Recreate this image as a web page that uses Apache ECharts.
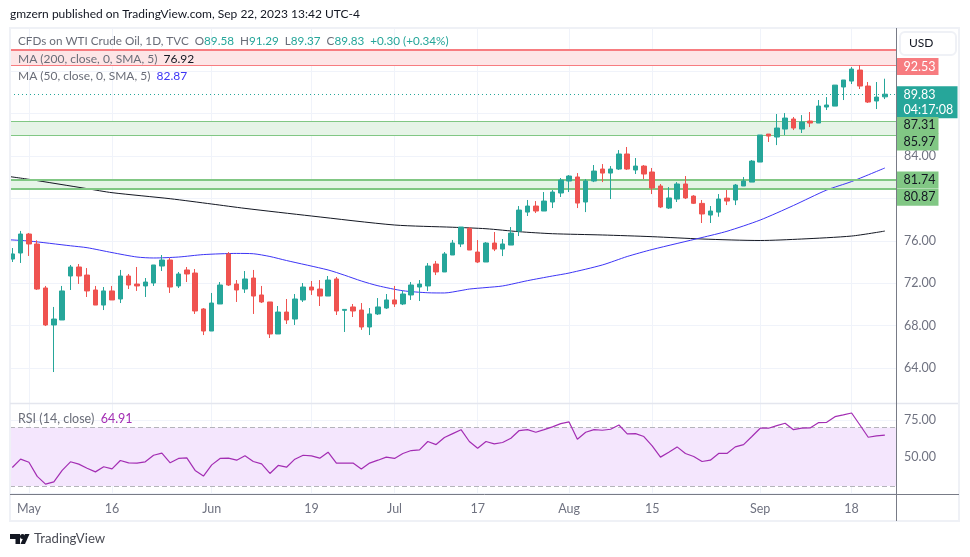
<!DOCTYPE html>
<html><head><meta charset="utf-8">
<style>html,body{margin:0;padding:0;background:#fff}#c{width:970px;height:557px}</style>
<script src="https://cdn.jsdelivr.net/npm/echarts@6/dist/echarts.min.js"></script></head>
<body><div id="c"></div>
<script>
const dates=['04-27','04-28','05-02','05-03','05-04','05-05','05-08','05-09','05-10','05-11','05-12','05-15','05-16','05-17','05-18','05-19','05-22','05-23','05-24','05-25','05-26','05-29','05-30','05-31','06-01','06-02','06-05','06-06','06-07','06-08','06-09','06-12','06-13','06-14','06-15','06-16','06-19','06-20','06-21','06-22','06-23','06-26','06-27','06-28','06-29','06-30','07-03','07-04','07-05','07-06','07-07','07-10','07-11','07-12','07-13','07-14','07-17','07-18','07-19','07-20','07-21','07-24','07-25','07-26','07-27','07-28','07-31','08-01','08-02','08-03','08-04','08-07','08-08','08-09','08-10','08-11','08-14','08-15','08-16','08-17','08-18','08-21','08-22','08-23','08-24','08-25','08-28','08-29','08-30','08-31','09-01','09-04','09-05','09-06','09-07','09-08','09-11','09-12','09-13','09-14','09-15','09-18','09-19','09-20','09-21','09-22'];
const opens=[74.28,74.85,76.64,75.70,71.55,68.06,68.53,72.68,73.53,72.77,71.36,69.94,71.27,70.51,72.68,71.92,71.74,72.02,73.62,74.19,71.74,73.25,72.96,69.57,67.49,70.04,74.76,71.92,71.45,72.49,70.89,70.23,67.21,69.28,68.62,70.42,71.64,71.45,70.79,72.40,69.44,69.76,69.47,67.87,69.10,69.66,70.42,70.04,70.89,71.64,71.74,73.81,73.06,74.66,75.70,77.17,74.94,74.00,75.79,75.22,75.60,76.92,78.71,79.28,78.81,79.66,80.51,81.64,82.02,79.66,81.64,82.77,82.39,82.77,84.19,82.68,83.05,82.49,81.17,79.09,79.94,81.36,80.22,79.53,78.43,78.71,80.03,79.85,81.17,81.54,83.43,86.07,85.79,86.54,87.49,86.54,87.30,87.11,88.62,88.71,90.51,91.07,92.11,90.60,89.19,89.58];
const closes=[74.76,76.64,75.70,71.45,68.06,68.62,71.27,73.53,72.68,71.27,69.94,71.27,70.42,72.68,71.83,71.74,72.11,73.72,74.19,71.64,72.87,72.87,69.38,67.49,70.13,71.83,71.83,71.36,72.40,70.79,70.23,67.21,69.28,68.53,70.51,71.64,71.36,70.79,72.30,69.38,69.53,69.38,67.87,69.10,69.76,70.42,70.04,70.98,71.83,71.92,73.62,73.06,74.76,75.79,77.30,75.13,74.00,75.79,75.22,75.70,76.73,78.90,79.28,78.81,79.75,80.60,81.73,82.11,79.56,81.64,82.58,82.39,82.77,84.19,82.77,83.05,82.30,80.98,79.19,80.04,81.36,80.04,79.54,78.53,78.81,79.94,79.75,81.26,81.64,83.52,85.98,85.88,86.64,87.58,86.64,87.20,87.11,88.71,88.81,90.69,91.17,92.20,90.60,89.09,89.56,89.83];
const lows=[74.00,73.91,74.57,71.36,67.96,63.62,68.53,71.36,71.93,70.70,69.94,69.47,70.42,70.13,71.45,71.27,70.70,71.74,73.15,71.08,71.55,72.11,69.10,67.11,67.49,70.04,71.74,70.23,71.08,69.10,70.13,66.83,67.21,68.15,68.06,70.23,70.89,69.85,70.79,69.00,67.40,68.81,67.60,67.11,69.00,69.57,69.76,69.94,70.42,70.32,71.27,72.77,73.06,74.66,75.41,75.13,73.90,74.00,75.03,74.56,75.60,76.45,78.34,78.62,78.81,79.09,80.13,80.60,79.09,78.71,81.54,81.54,79.94,82.68,82.68,82.30,81.83,80.41,79.09,79.00,79.66,79.94,79.47,77.68,77.68,78.27,79.37,79.37,81.17,81.54,83.43,85.32,85.03,85.98,86.45,86.17,86.73,87.11,88.34,88.71,89.28,90.79,90.32,89.00,88.43,89.37];
const highs=[75.32,76.93,76.74,76.05,71.74,69.76,71.74,73.72,73.81,73.43,71.74,71.64,71.74,73.25,72.87,73.53,72.49,73.72,74.66,74.38,73.06,73.53,73.34,69.66,71.08,72.11,74.94,72.30,73.15,73.25,71.74,70.23,69.85,70.51,70.98,72.02,72.21,72.30,72.68,72.59,69.53,70.04,70.13,69.66,70.60,70.98,71.74,71.27,72.11,72.30,73.90,74.10,74.94,76.08,77.30,77.30,76.07,75.88,76.83,76.17,77.30,79.28,79.85,79.75,80.60,80.79,81.92,82.20,82.39,81.83,83.15,83.24,83.05,84.56,84.85,83.81,83.15,82.87,81.36,81.07,81.54,82.11,80.31,79.85,79.28,80.41,80.79,81.36,82.02,83.62,85.98,86.07,87.96,88.05,87.68,87.86,88.15,89.28,89.56,90.69,91.17,92.39,92.58,90.98,90.98,91.29];
const rsi=[42.7,48.4,46.3,36.6,31.3,32.9,40.7,46.6,45.0,42.2,39.7,43.2,41.8,47.5,45.9,45.7,46.6,51.1,52.5,45.9,48.9,49.3,40.7,36.8,44.5,48.9,49.1,47.7,50.7,46.8,45.2,38.6,44.1,42.9,48.4,51.1,50.7,49.1,53.2,45.7,45.7,45.7,41.6,45.7,47.7,49.8,48.9,52.3,54.3,54.8,60.5,58.4,63.2,65.9,68.6,60.5,55.9,60.5,58.9,59.8,62.7,68.0,68.6,66.8,68.6,70.5,72.7,73.9,62.0,66.8,68.6,68.2,68.9,71.8,65.7,65.9,63.9,57.5,49.8,53.2,56.8,52.3,50.2,46.8,47.7,52.3,52.3,56.8,58.4,63.9,69.6,69.6,71.4,73.0,68.6,69.6,69.8,73.4,73.6,77.5,78.7,80.0,71.8,63.4,64.3,64.91];
const ma50Bars=[-1,2,7,9,12,15,17,20,23,27,29,31,33,38,40,42,44,47,50,52,54,55,57,59,62,65,67,71,74,77,83,86,90,94,98,101,105];
const ma50Values=[76.12,75.98,75.53,75.35,74.89,74.47,74.38,74.47,74.70,74.81,74.78,74.52,74.14,73.25,72.75,72.21,71.76,71.29,71.10,71.08,71.31,71.45,71.59,71.74,72.24,72.68,72.96,73.72,74.52,75.18,76.31,76.90,77.96,79.33,80.79,81.59,82.87];
const ma200Bars=[-1,2,9,12,19,24,28,36,46,53,57,61,65,71,77,83,90,95,101,105];
const ma200Values=[82.13,81.80,80.92,80.54,79.97,79.47,79.06,78.34,77.49,77.28,77.14,76.86,76.67,76.55,76.39,76.17,76.03,76.17,76.45,76.92];
const tickDates=['05-02','05-16','06-01','06-19','07-03','07-17','08-01','08-15','09-01','09-18'];
const tickLabels=['May','16','Jun','19','Jul','17','Aug','15','Sep','18'];
const priceTicks=[64,68,72,76,80,84,88,92];
const rsiTicks=[25,50,75];
const rsiLabels=[50,75];
const resistance=[92.53,94.0];
const upperSupport=[85.97,87.31];
const lowerSupport=[80.87,81.74];
const rsiBand=[30,70];
const lastPrice=89.83;
const countdown='04:17:08';

const categories=['',...dates,' '];
const tickMap=Object.fromEntries(tickDates.map((d,i)=>[d,tickLabels[i]]));
const isTick=(i,v)=>v in tickMap;
const GRID='#f0f3fa', AX='#6f7280', UP='#26a69a', DN='#ef5350';
const FONT='Lato,sans-serif', FS=12.5;
const hline=(v,color,width,type)=>({yAxis:v,lineStyle:{color,width,type:type||'solid'},symbol:'none'});
const band=(b,color)=>[{yAxis:b[1],itemStyle:{color}},{yAxis:b[0]}];
const priceTags=[
 {v:resistance[0],text:'92.53',bg:'#f77c80',fg:'#fff',dy:1,w:33},
 {v:lastPrice,text:lastPrice.toFixed(2)+'\n'+countdown,bg:UP,fg:'#fff',dy:8,w:52},
 {v:upperSupport[1],text:'87.31',bg:'#81c784',fg:'#131722',dy:4.5,w:33},
 {v:upperSupport[0],text:'85.97',bg:'#81c784',fg:'#131722',dy:7,w:33},
 {v:lowerSupport[1],text:'81.74',bg:'#81c784',fg:'#131722',dy:0,w:33},
 {v:lowerSupport[0],text:'80.87',bg:'#81c784',fg:'#131722',dy:8,w:33}
];
const T=(x,y,text,rich,extra)=>({type:'text',x,y,z:50,silent:true,style:Object.assign({text,fontFamily:FONT,fontSize:FS,fill:'#6a6d78',verticalAlign:'middle',rich:rich||{}},extra||{})});
const col=(c,s)=>({fontFamily:FONT,fontSize:s||FS,fill:c,color:c});
const option={
 animation:false,backgroundColor:'#fff',
 grid:[
  {left:10,width:886,top:28,height:375},
  {left:3.99,width:889.17,top:28,height:375},
  {left:10,width:886,top:403,height:91},
  {left:3.99,width:889.17,top:403,height:91}
 ],
 xAxis:[
  {gridIndex:0,type:'value',min:0,max:1,show:false},
  {gridIndex:1,type:'category',boundaryGap:false,data:categories,axisLine:{show:false},axisTick:{show:false},axisLabel:{show:false},splitLine:{show:true,interval:isTick,lineStyle:{color:GRID,width:1}}},
  {gridIndex:2,type:'value',min:0,max:1,show:false},
  {gridIndex:3,type:'category',boundaryGap:false,data:categories,axisLine:{show:false},axisTick:{show:false},
   axisLabel:{show:true,interval:isTick,formatter:v=>tickMap[v]||'',color:AX,fontFamily:FONT,fontSize:FS,margin:8,hideOverlap:false},
   splitLine:{show:true,interval:isTick,lineStyle:{color:GRID,width:1}}}
 ],
 yAxis:[
  {gridIndex:0,type:'value',position:'right',min:60.7,max:96.075,scale:true,axisLine:{show:false},axisTick:{show:false,customValues:priceTicks},
   axisLabel:{customValues:priceTicks,formatter:v=>v.toFixed(2),color:AX,fontFamily:FONT,fontSize:FS,margin:8},splitLine:{show:true,lineStyle:{color:GRID,width:1}}},
  {gridIndex:1,type:'value',min:60.7,max:96.075,scale:true,show:false,splitLine:{show:false}},
  {gridIndex:2,type:'value',position:'right',min:24.55,max:86.86,scale:true,axisLine:{show:false},axisTick:{show:false,customValues:rsiTicks},
   axisLabel:{customValues:rsiLabels,formatter:v=>v.toFixed(2),color:AX,fontFamily:FONT,fontSize:FS,margin:8},splitLine:{show:true,lineStyle:{color:GRID,width:1}}},
  {gridIndex:3,type:'value',min:24.55,max:86.86,scale:true,show:false,splitLine:{show:false}}
 ],
 series:[
  {type:'line',name:'zones',xAxisIndex:0,yAxisIndex:0,data:[[0,lastPrice]],showSymbol:false,lineStyle:{opacity:0},silent:true,z:1,
   markArea:{silent:true,z:1,data:[band(resistance,'#fde5e6'),band(upperSupport,'#e6f4e7'),band(lowerSupport,'#e6f4e7')]},
   markLine:{silent:true,z:3,symbol:'none',label:{show:false},animation:false,data:[
    hline(resistance[1],'#f77c80',2),hline(resistance[0],'#f77c80',1.2),
    hline(upperSupport[1],'#81c784',1),hline(upperSupport[0],'#81c784',1),
    hline(lowerSupport[1],'#81c784',2),hline(lowerSupport[0],'#81c784',2),
    hline(lastPrice,UP,1,[1,3])]}},
  {type:'line',name:'MA 200',xAxisIndex:1,yAxisIndex:1,z:2,showSymbol:false,smooth:0.25,silent:true,
   data:ma200Bars.map((b,i)=>[b+1,ma200Values[i]]),lineStyle:{color:'#131722',width:1}},
  {type:'line',name:'MA 50',xAxisIndex:1,yAxisIndex:1,z:2,showSymbol:false,smooth:0.25,silent:true,
   data:ma50Bars.map((b,i)=>[b+1,ma50Values[i]]),lineStyle:{color:'#3d35f5',width:1}},
  {type:'candlestick',xAxisIndex:1,yAxisIndex:1,z:4,barWidth:5,silent:true,
   data:[['-','-','-','-'],...opens.map((o,i)=>[o,closes[i],lows[i],highs[i]])],
   itemStyle:{color:UP,color0:DN,borderColor:UP,borderColor0:DN,borderWidth:1}},
  {type:'scatter',name:'tags',xAxisIndex:0,yAxisIndex:0,z:20,clip:false,silent:true,symbolSize:1,itemStyle:{color:'transparent',opacity:1},
   data:priceTags.map(t=>({value:[1,t.v],label:{show:true,position:'right',distance:0,offset:[0,t.dy],formatter:t.text,color:t.fg,backgroundColor:t.bg,width:t.w,lineHeight:15,padding:[1,2,1,7],fontFamily:FONT,fontSize:FS,align:'left',opacity:1}}))},
  {type:'line',name:'rsiBand',xAxisIndex:2,yAxisIndex:2,data:[[0,rsiBand[0]]],showSymbol:false,lineStyle:{opacity:0},silent:true,z:1,
   markArea:{silent:true,z:1,data:[band(rsiBand,'#f4e6fd')]},
   markLine:{silent:true,z:3,symbol:'none',label:{show:false},data:[hline(rsiBand[1],'#b4b4ba',1,[5,3]),hline(rsiBand[0],'#b4b4ba',1,[5,3])]}},
  {type:'line',name:'RSI',xAxisIndex:3,yAxisIndex:3,z:4,showSymbol:false,silent:true,
   data:rsi.map((v,i)=>[i+1,v]),lineStyle:{color:'#a32db3',width:1.2}}
 ],
 graphic:{elements:[
  {type:'rect',z:40,silent:true,shape:{x:0,y:20,width:9,height:510},style:{fill:'#fff'}},
  {type:'rect',z:41,silent:true,shape:{x:10,y:28,width:949,height:493},style:{fill:'none',stroke:'#eff1f6',lineWidth:2}},
  {type:'line',z:41,silent:true,shape:{x1:10,y1:403.5,x2:958,y2:403.5},style:{stroke:'#e4e6ee',lineWidth:1.5}},
  {type:'line',z:42,silent:true,shape:{x1:10,y1:494.5,x2:959,y2:494.5},style:{stroke:'#787b86',lineWidth:1}},
  {type:'line',z:42,silent:true,shape:{x1:896.5,y1:28,x2:896.5,y2:521},style:{stroke:'#787b86',lineWidth:1}},
  {type:'rect',z:42,silent:true,shape:{x:900,y:32,width:56,height:23,r:5},style:{fill:'#fff',stroke:'#eff1f6',lineWidth:2}},
  T(909,43,'USD',null,{fill:'#131722',fontSize:12}),
  T(10,14,'gmzern published on TradingView.com, Sep 22, 2023 13:42 UTC-4',null,{fill:'#131722',fontSize:12}),
  T(18,41,'CFDs on WTI Crude Oil, 1D, TVC  O{g|89.58}  H{g|91.29}  L{g|89.37}  C{g|89.83}  {g|+0.30 (+0.34%)}',{g:col(UP,11.7)},{fontSize:11.7}),
  T(18,59,'MA (200, close, 0, SMA, 5)  {k|76.92}',{k:col('#131722',12)},{fontSize:12}),
  T(18,76,'MA (50, close, 0, SMA, 5)  {b|82.87}',{b:col('#3d35f5',12)},{fontSize:12}),
  T(18,419,'RSI (14, close)  {p|64.91}',{p:col('#a32db3')}),
  {type:'polygon',z:50,silent:true,shape:{points:[[10,534],[20,534],[20,544],[15.5,544],[15.5,539],[10,539]]},style:{fill:'#131722'}},
  {type:'circle',z:50,silent:true,shape:{cx:22.5,cy:536.5,r:2.5},style:{fill:'#131722'}},
  {type:'polygon',z:50,silent:true,shape:{points:[[25,534],[29.5,534],[25,544],[20.5,544]]},style:{fill:'#131722'}},
  T(34,539,'TradingView',null,{fontSize:13.2,fill:'#4a4c55'})
 ]}
};
echarts.init(document.getElementById('c')).setOption(option);
</script></body></html>
